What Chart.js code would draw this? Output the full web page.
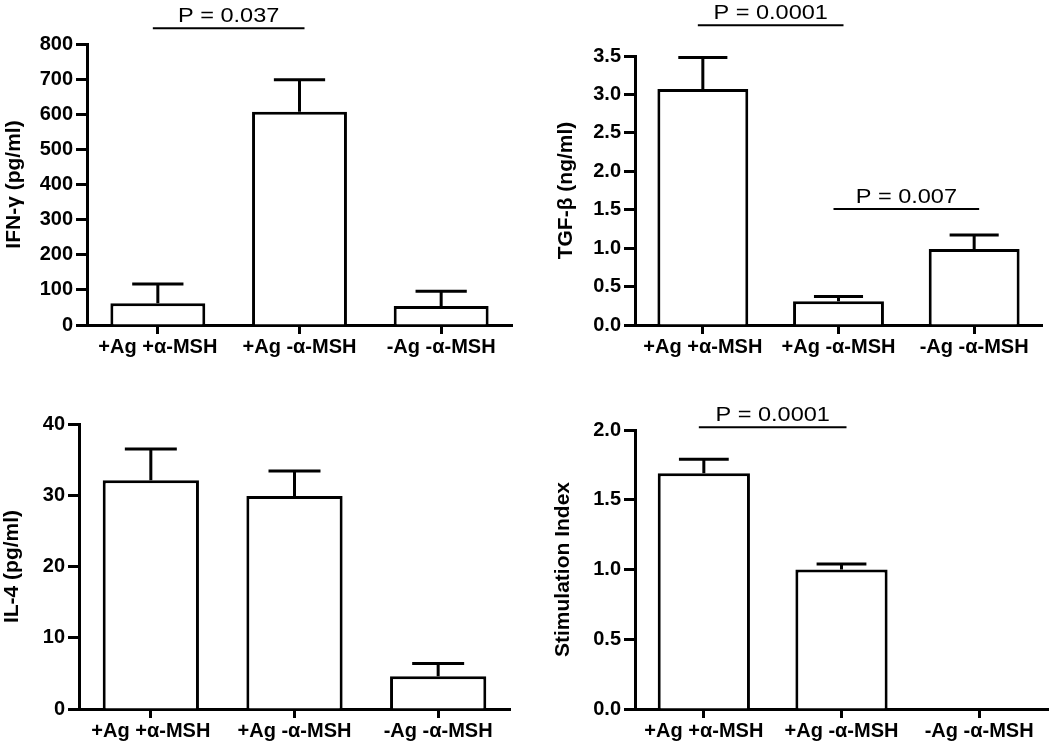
<!DOCTYPE html>
<html>
<head>
<meta charset="utf-8">
<script src="https://cdn.jsdelivr.net/npm/chart.js@4"></script>
<style>
  body { margin: 0; background: #fff; }
  .panel { position: absolute; width: 525px; height: 373px; }
</style>
</head>
<body>
<div class="panel" style="left:0;top:0"><canvas id="ifn"></canvas></div>
<div class="panel" style="left:525px;top:0"><canvas id="tgf"></canvas></div>
<div class="panel" style="left:0;top:373px"><canvas id="il4"></canvas></div>
<div class="panel" style="left:525px;top:373px"><canvas id="si"></canvas></div>
<script>
"use strict";

// groups on the x axis
const groups = ["+Ag +\u03B1-MSH", "+Ag -\u03B1-MSH", "-Ag -\u03B1-MSH"];

// means and upper error (SEM)
const ifnMean = [62, 607, 54];
const ifnErr = [55, 91, 42];
const tgfMean = [3.07, 0.31, 0.99];
const tgfErr = [0.41, 0.06, 0.18];
const il4Mean = [32.1, 29.9, 4.6];
const il4Err = [4.4, 3.5, 1.8];
const siMean = [1.69, 1.0, 0];
const siErr = [0.10, 0.04, 0];

// y axis ranges: min, max, step
const ifnTicks = [0, 800, 100];
const tgfTicks = [0, 3.5, 0.5];
const il4Ticks = [0, 40, 10];
const siTicks = [0, 2.0, 0.5];

// p-value brackets: from group, to group, height (axis units), text
const ifnP = [[0, 1, 845, "P = 0.037"]];
const tgfP = [[0, 1, 3.9, "P = 0.0001"], [1, 2, 1.51, "P = 0.007"]];
const il4P = [];
const siP = [[0, 1, 2.02, "P = 0.0001"]];

const FONT = "'Liberation Sans', Arial, sans-serif";

// error bars on top of each bar
const errorBars = {
  id: "errorBars",
  afterDatasetsDraw(chart, args, opts) {
    const ctx = chart.ctx;
    const y = chart.scales.y;
    const meta = chart.getDatasetMeta(0);
    const data = chart.data.datasets[0].data;
    ctx.save();
    ctx.strokeStyle = "#000";
    ctx.lineWidth = 3;
    meta.data.forEach((bar, i) => {
      const err = opts.errors[i];
      if (!err) return;
      const top = y.getPixelForValue(data[i] + err);
      const half = bar.width * 0.27;
      ctx.beginPath();
      ctx.moveTo(bar.x, bar.y);
      ctx.lineTo(bar.x, top);
      ctx.moveTo(bar.x - half, top);
      ctx.lineTo(bar.x + half, top);
      ctx.stroke();
    });
    ctx.restore();
  }
};

// significance lines with p values
const pLines = {
  id: "pLines",
  afterDraw(chart, args, opts) {
    const ctx = chart.ctx;
    const x = chart.scales.x;
    const y = chart.scales.y;
    ctx.save();
    opts.items.forEach(p => {
      const x1 = x.getPixelForValue(p[0]) - 5;
      const x2 = x.getPixelForValue(p[1]) + 5;
      const yy = y.getPixelForValue(p[2]);
      ctx.strokeStyle = "#000";
      ctx.lineWidth = 2;
      ctx.beginPath();
      ctx.moveTo(x1, yy);
      ctx.lineTo(x2, yy);
      ctx.stroke();
      ctx.font = "21px " + FONT;
      ctx.fillStyle = "#000";
      ctx.textAlign = "center";
      ctx.textBaseline = "alphabetic";
      ctx.translate((x1 + x2) / 2, yy - 6);
      ctx.scale(1.12, 1);
      ctx.fillText(p[3], 0, 0);
      ctx.setTransform(1, 0, 0, 1, 0, 0);
    });
    ctx.restore();
  }
};

function makePanel(id, means, errs, ticks, pv, title, box, decimals) {
  new Chart(document.getElementById(id), {
    type: "bar",
    data: {
      labels: groups,
      datasets: [{
        data: means,
        backgroundColor: "#fff",
        borderColor: "#000",
        borderWidth: c => (c.raw ? 3 : 0),
        barPercentage: 0.67,
        categoryPercentage: 1
      }]
    },
    options: {
      responsive: true,
      maintainAspectRatio: false,
      animation: false,
      layout: { padding: { left: box.left, top: box.top, right: box.right, bottom: 0 } },
      plugins: {
        legend: { display: false },
        tooltip: { enabled: false },
        errorBars: { errors: errs },
        pLines: { items: pv }
      },
      scales: {
        x: {
          afterFit: s => { s.height = box.xh; },
          grid: { display: true, offset: false, drawOnChartArea: false, tickLength: 9, tickWidth: 3, tickColor: "#000" },
          border: { display: true, width: 3, color: "#000" },
          ticks: { color: "#000", padding: 1, maxRotation: 0, font: { family: FONT, size: 20, weight: "bold" } }
        },
        y: {
          min: ticks[0],
          max: ticks[1],
          afterFit: s => { s.width = box.yw; },
          grid: { display: true, drawOnChartArea: false, tickLength: 11, tickWidth: 3, tickColor: "#000" },
          border: { display: true, width: 3, color: "#000" },
          ticks: {
            stepSize: ticks[2],
            color: "#000",
            padding: 3,
            font: { family: FONT, size: 20, weight: "bold" },
            callback: v => v.toFixed(decimals)
          },
          title: {
            display: true,
            text: title,
            color: "#000",
            padding: { top: 0, bottom: 0 },
            font: { family: FONT, size: 21, weight: "bold" }
          }
        }
      }
    },
    plugins: [errorBars, pLines]
  });
}

makePanel("ifn", ifnMean, ifnErr, ifnTicks, ifnP, "IFN-\u03B3 (pg/ml)", { left: 2, top: 44, right: 13, yw: 85, xh: 48 }, 0);
makePanel("tgf", tgfMean, tgfErr, tgfTicks, tgfP, "TGF-\u03B2 (ng/ml)", { left: 29, top: 56, right: 8, yw: 81, xh: 48 }, 1);
makePanel("il4", il4Mean, il4Err, il4Ticks, il4P, "IL-4 (pg/ml)", { left: 0, top: 51, right: 15, yw: 79, xh: 37 }, 0);
makePanel("si", siMean, siErr, siTicks, siP, "Stimulation Index", { left: 26, top: 57, right: 2, yw: 84, xh: 37 }, 1);
</script>
</body>
</html>
